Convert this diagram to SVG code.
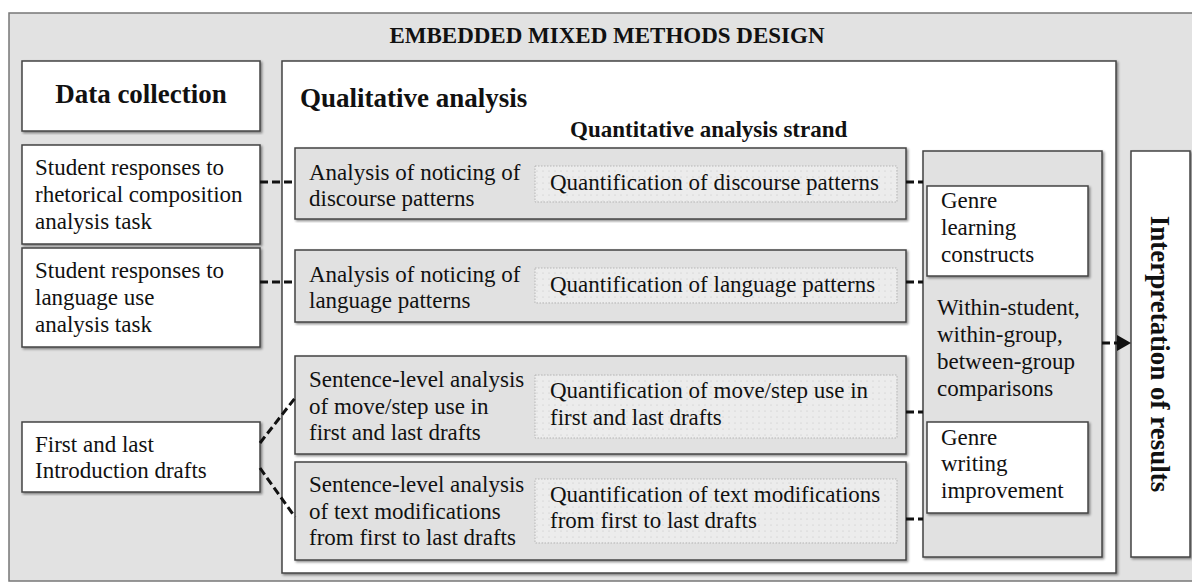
<svg xmlns="http://www.w3.org/2000/svg" width="1192" height="583" viewBox="0 0 1192 583">
<defs>
<filter id="sh" x="-5%" y="-5%" width="110%" height="110%">
<feDropShadow dx="1.5" dy="1.5" stdDeviation="1" flood-color="#000" flood-opacity="0.45"/>
</filter>
<pattern id="dots" width="6" height="6" patternUnits="userSpaceOnUse">
<rect width="6" height="6" fill="#ececec"/>
<circle cx="3" cy="3" r="0.6" fill="#c4c4c4"/>
</pattern>
<style>
text { font-family: "Liberation Serif", "Times New Roman", serif; fill: #111; }
.t { font-size: 23px; }
.h { font-size: 27px; font-weight: bold; }
.hb { font-size: 23px; font-weight: bold; }
.white { fill: #fff; stroke: #444; stroke-width: 1.5; }
.gray { fill: #e1e1e1; stroke: #444; stroke-width: 1.5; }
.dot { fill: url(#dots); stroke: #b5b5b5; stroke-width: 1; stroke-dasharray: 1.5 1.5; }
.con { fill: none; stroke: #111; stroke-width: 3; stroke-dasharray: 8 4; }
.head { fill: #111; stroke: none; }
</style>
</defs>

<g id="outer">
<rect x="9" y="13" width="1195" height="568" fill="#e2e2e2" stroke="#777" stroke-width="1.5"/>
<text class="hb" x="607" y="43" text-anchor="middle">EMBEDDED MIXED METHODS DESIGN</text>
</g>

<g id="data-collection">
<rect class="white" x="22" y="61" width="238" height="70" filter="url(#sh)"/>
<text class="h" x="141" y="103" text-anchor="middle">Data collection</text>
</g>

<g id="src-rhetorical">
<rect class="white" x="22" y="145" width="238" height="99" filter="url(#sh)"/>
<text class="t" x="35" y="175">Student responses to</text>
<text class="t" x="35" y="202">rhetorical composition</text>
<text class="t" x="35" y="229">analysis task</text>
</g>

<g id="src-language">
<rect class="white" x="22" y="248" width="238" height="99" filter="url(#sh)"/>
<text class="t" x="35" y="278">Student responses to</text>
<text class="t" x="35" y="305">language use</text>
<text class="t" x="35" y="332">analysis task</text>
</g>

<g id="src-drafts">
<rect class="white" x="22" y="422" width="238" height="70" filter="url(#sh)"/>
<text class="t" x="35" y="452">First and last</text>
<text class="t" x="35" y="478">Introduction drafts</text>
</g>

<g id="qualitative">
<rect class="white" x="282" y="61" width="834" height="512" filter="url(#sh)"/>
<text class="h" x="300" y="107">Qualitative analysis</text>
<text class="hb" x="570" y="137">Quantitative analysis strand</text>
</g>

<g id="row-discourse">
<rect class="gray" x="295" y="148" width="611" height="71" filter="url(#sh)"/>
<text class="t" x="309" y="180">Analysis of noticing of</text>
<text class="t" x="309" y="206">discourse patterns</text>
<rect class="dot" x="535" y="166" width="362" height="36"/>
<text class="t" x="550" y="190">Quantification of discourse patterns</text>
</g>

<g id="row-language">
<rect class="gray" x="295" y="250" width="611" height="72" filter="url(#sh)"/>
<text class="t" x="309" y="282">Analysis of noticing of</text>
<text class="t" x="309" y="308">language patterns</text>
<rect class="dot" x="535" y="268" width="362" height="35"/>
<text class="t" x="550" y="292">Quantification of language patterns</text>
</g>

<g id="row-movestep">
<rect class="gray" x="295" y="356" width="611" height="98" filter="url(#sh)"/>
<text class="t" x="309" y="387">Sentence-level analysis</text>
<text class="t" x="309" y="414">of move/step use in</text>
<text class="t" x="309" y="440">first and last drafts</text>
<rect class="dot" x="535" y="375" width="362" height="63"/>
<text class="t" x="550" y="398">Quantification of move/step use in</text>
<text class="t" x="550" y="425">first and last drafts</text>
</g>

<g id="row-textmod">
<rect class="gray" x="295" y="462" width="611" height="98" filter="url(#sh)"/>
<text class="t" x="309" y="492">Sentence-level analysis</text>
<text class="t" x="309" y="519">of text modifications</text>
<text class="t" x="309" y="545">from first to last drafts</text>
<rect class="dot" x="535" y="479" width="362" height="64"/>
<text class="t" x="550" y="502">Quantification of text modifications</text>
<text class="t" x="550" y="528">from first to last drafts</text>
</g>

<g id="comparisons">
<rect class="gray" x="923" y="151" width="179" height="406" filter="url(#sh)"/>
<text class="t" x="937" y="315">Within-student,</text>
<text class="t" x="937" y="342">within-group,</text>
<text class="t" x="937" y="369">between-group</text>
<text class="t" x="937" y="396">comparisons</text>
</g>

<g id="genre-learning">
<rect class="white" x="927" y="186" width="161" height="90" filter="url(#sh)"/>
<text class="t" x="941" y="208">Genre</text>
<text class="t" x="941" y="235">learning</text>
<text class="t" x="941" y="262">constructs</text>
</g>

<g id="genre-writing">
<rect class="white" x="927" y="422" width="161" height="91" filter="url(#sh)"/>
<text class="t" x="941" y="445">Genre</text>
<text class="t" x="941" y="471">writing</text>
<text class="t" x="941" y="498">improvement</text>
</g>

<g id="interpretation">
<rect class="white" x="1131" y="151" width="59" height="406" filter="url(#sh)"/>
<text class="h" transform="translate(1151,354) rotate(90)" text-anchor="middle">Interpretation of results</text>
</g>

<g id="connectors">
<line class="con" x1="260" y1="182" x2="295" y2="182"/>
<line class="con" x1="260" y1="282" x2="295" y2="282"/>
<line class="con" x1="260" y1="443" x2="295" y2="398"/>
<line class="con" x1="260" y1="468" x2="295" y2="517"/>
<line class="con" x1="906" y1="182" x2="923" y2="182"/>
<line class="con" x1="906" y1="282" x2="923" y2="282"/>
<line class="con" x1="906" y1="412" x2="923" y2="412"/>
<line class="con" x1="906" y1="519" x2="923" y2="519"/>
<line class="con" x1="1102" y1="343" x2="1119" y2="343"/>
<path class="head" d="M1117,335 L1131,343 L1117,351 z"/>
</g>
</svg>
